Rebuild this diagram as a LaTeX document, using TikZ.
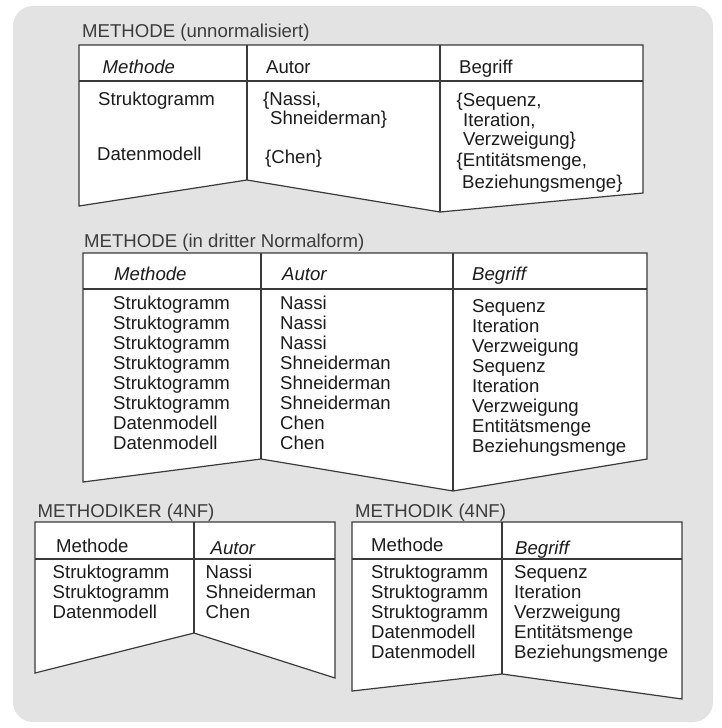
\documentclass[tikz,border=0pt]{standalone}
\usepackage{fontspec}
\setmainfont{Liberation Sans}
\definecolor{bgcol}{HTML}{E3E3E3}
\definecolor{linecol}{HTML}{3A3A3A}
\definecolor{txtcol}{HTML}{1C1C1C}
\definecolor{ttlcol}{HTML}{3C3C3C}
\tikzset{
  txt/.style={anchor=base west, inner sep=0pt, font=\fontsize{18.6}{20}\selectfont, text=txtcol},
  itl/.style={txt, font=\fontsize{18.6}{20}\selectfont\itshape},
  ttl/.style={txt, text=ttlcol},
  tbl/.style={draw=linecol, fill=white, line width=1.2pt, line join=miter},
  rule/.style={draw=linecol, line width=1.2pt}
}
\begin{document}
\begin{tikzpicture}[x=1pt,y=-1pt]
\useasboundingbox (0,0) rectangle (721,728);
\fill[bgcol, rounded corners=20pt] (13,6) rectangle (713,722);

% ---------- Table 1: unnormalisiert ----------
\node[ttl] (t1) at (82,37.5) {METHODE (unnormalisiert)};
\path[tbl] (79,45) -- (643,45) -- (643,193) -- (440,212) -- (247,180) -- (79,206) -- cycle;
\path[rule] (79,81) -- (643,81);
\path[rule] (247,45) -- (247,180);
\path[rule] (440,45) -- (440,212);
\node[itl] (t1h1) at (102.5,73.5) {Methode};
\node[txt] (t1h2) at (266,73.5) {Autor};
\node[txt] (t1h3) at (459,73.5) {Begriff};
\node[txt] (t1a1) at (98,105.5) {Struktogramm};
\node[txt] (t1a2) at (97,160.5) {Datenmodell};
\node[txt] (t1b1) at (263,105.5) {\{Nassi,};
\node[txt] (t1b2) at (270,124.5) {Shneiderman\}};
\node[txt] (t1b3) at (265,163.5) {\{Chen\}};
\node[txt] (t1c1) at (456.5,106.5) {\{Sequenz,};
\node[txt] (t1c2) at (463,126.5) {Iteration,};
\node[txt] (t1c3) at (463,145.5) {Verzweigung\}};
\node[txt] (t1c4) at (456.5,166.5) {\{Entitätsmenge,};
\node[txt] (t1c5) at (462,188.5) {Beziehungsmenge\}};

% ---------- Table 2: dritte Normalform ----------
\node[ttl] (t2) at (84,247.5) {METHODE (in dritter Normalform)};
\path[tbl] (83,253) -- (647,253) -- (647,459) -- (453,491) -- (261,459) -- (83,482) -- cycle;
\path[rule] (83,289) -- (647,289);
\path[rule] (261,253) -- (261,459);
\path[rule] (453,253) -- (453,491);
\node[itl] (t2h1) at (114,280.5) {Methode};
\node[itl] (t2h2) at (282,280.5) {Autor};
\node[itl] (t2h3) at (472,280.5) {Begriff};
\foreach \i/\m/\a in {0/Struktogramm/Nassi,1/Struktogramm/Nassi,2/Struktogramm/Nassi,
  3/Struktogramm/Shneiderman,4/Struktogramm/Shneiderman,5/Struktogramm/Shneiderman,
  6/Datenmodell/Chen,7/Datenmodell/Chen}{
  \node[txt] (t2a\i) at (113,309.5+20*\i) {\m};
  \node[txt] (t2b\i) at (280,309.5+20*\i) {\a};
}
\foreach \i/\b in {0/Sequenz,1/Iteration,2/Verzweigung,3/Sequenz,4/Iteration,5/Verzweigung,6/Entitätsmenge,7/Beziehungsmenge}{
  \node[txt] (t2c\i) at (472,312.5+20*\i) {\b};
}

% ---------- Table 3: METHODIKER ----------
\node[ttl] (t3) at (37.5,517.5) {METHODIKER (4NF)};
\path[tbl] (35,522) -- (335,522) -- (335,678) -- (194,633) -- (35,673) -- cycle;
\path[rule] (35,559) -- (335,559);
\path[rule] (194,522) -- (194,633);
\node[txt] (t3h1) at (56,552.5) {Methode};
\node[itl] (t3h2) at (210.5,554.5) {Autor};
\foreach \i/\m/\a in {0/Struktogramm/Nassi,1/Struktogramm/Shneiderman,2/Datenmodell/Chen}{
  \node[txt] (t3a\i) at (52.5,578.5+20*\i) {\m};
  \node[txt] (t3b\i) at (205.5,578.5+20*\i) {\a};
}

% ---------- Table 4: METHODIK ----------
\node[ttl] (t4) at (355,517.5) {METHODIK (4NF)};
\path[tbl] (352,522) -- (682,522) -- (682,699) -- (502,674) -- (352,691) -- cycle;
\path[rule] (352,559) -- (682,559);
\path[rule] (502,522) -- (502,674);
\node[txt] (t4h1) at (371,551.5) {Methode};
\node[itl] (t4h2) at (515,554.5) {Begriff};
\foreach \i/\m/\b in {0/Struktogramm/Sequenz,1/Struktogramm/Iteration,2/Struktogramm/Verzweigung,
  3/Datenmodell/Entitätsmenge,4/Datenmodell/Beziehungsmenge}{
  \node[txt] (t4a\i) at (371,578.5+20*\i) {\m};
  \node[txt] (t4b\i) at (514,578.5+20*\i) {\b};
}
\end{tikzpicture}
\end{document}
